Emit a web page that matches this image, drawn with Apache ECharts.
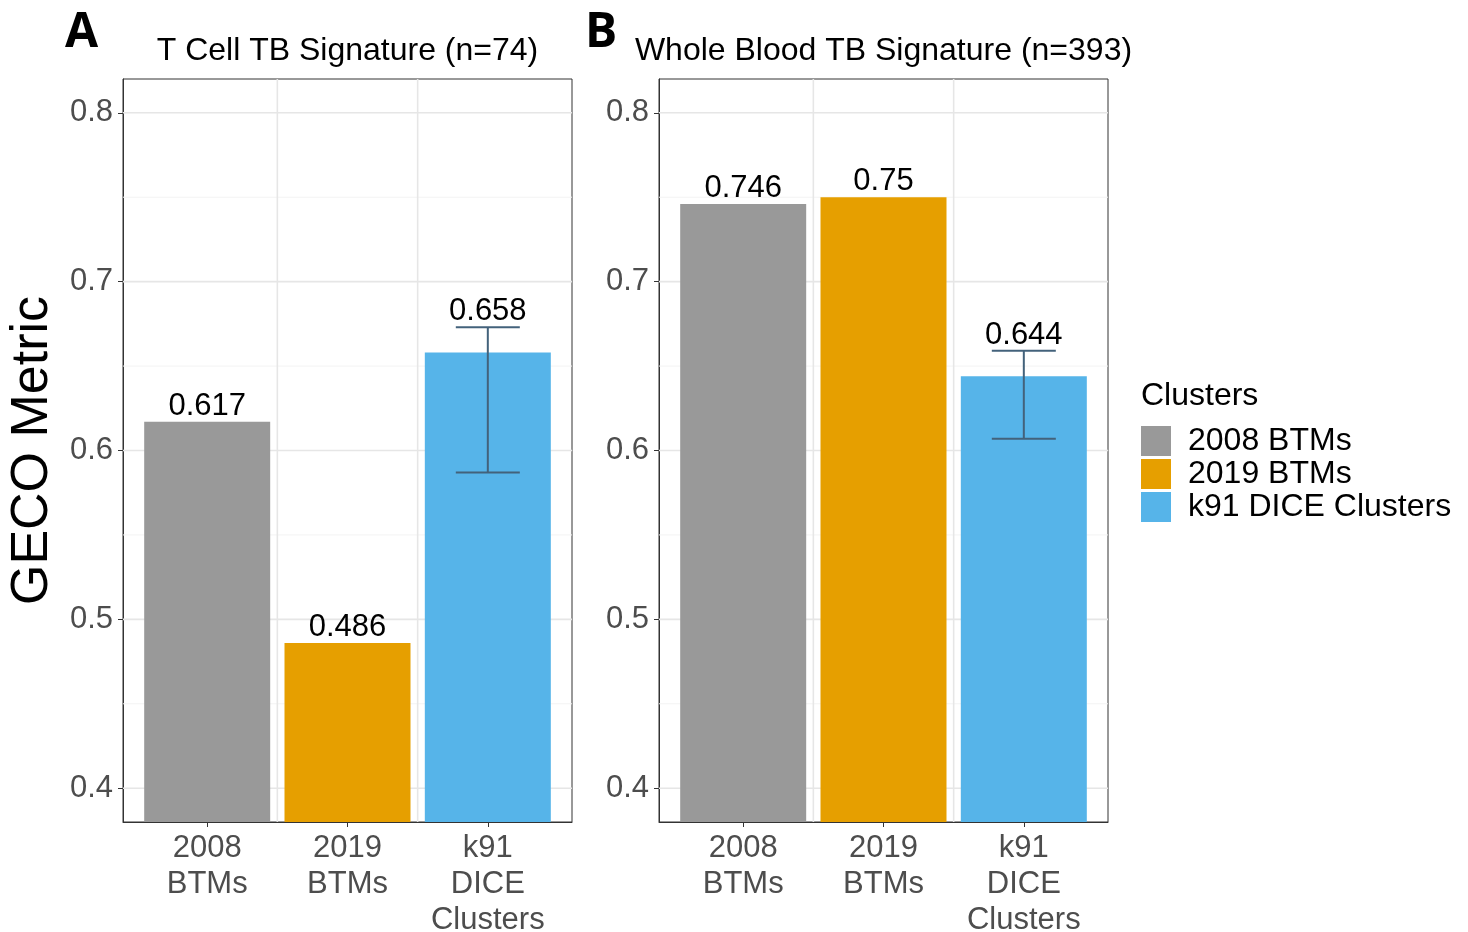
<!DOCTYPE html>
<html>
<head>
<meta charset="utf-8">
<script src="https://cdn.jsdelivr.net/npm/echarts@6/dist/echarts.min.js"></script>
<style>
  html, body { margin: 0; padding: 0; background: #fff; }
  #chart { width: 1468px; height: 932px; }
</style>
</head>
<body>
<div id="chart"></div>
<script>
// data
var categories = ['2008\nBTMs', '2019\nBTMs', 'k91\nDICE\nClusters'];
var clusterNames = ['2008 BTMs', '2019 BTMs', 'k91 DICE Clusters'];
var clusterColors = ['#999999', '#E69F00', '#56B4E9'];
var panelTags = ['A', 'B'];
var panelTitles = ['T Cell TB Signature (n=74)', 'Whole Blood TB Signature (n=393)'];
var valuesA = [0.617, 0.486, 0.658];
var valuesB = [0.746, 0.75, 0.644];
var errLowA = [null, null, 0.587];
var errHighA = [null, null, 0.673];
var errLowB = [null, null, 0.607];
var errHighB = [null, null, 0.659];
var yTicks = [0.4, 0.5, 0.6, 0.7, 0.8];
var yMinorGrid = [0.45, 0.55, 0.65, 0.75];
var xGridLines = [1.5, 2.5];
var xPositions = [1, 2, 3];

var panels = [
  {values: valuesA, lo: errLowA, hi: errHighA, left: 123},
  {values: valuesB, lo: errLowB, hi: errHighB, left: 659}
];
var plotTop = 79, plotW = 449, plotH = 743;
var textFont = '"Liberation Sans", Arial, sans-serif';
var errColor = '#43627b';

function renderErr(params, api) {
  var x = api.value(0);
  var lo = api.coord([x, api.value(1)]);
  var hi = api.coord([x, api.value(2)]);
  var hw = 32;
  var st = {stroke: errColor, lineWidth: 2};
  return {
    type: 'group',
    children: [
      {type: 'line', shape: {x1: lo[0], y1: lo[1], x2: hi[0], y2: hi[1]}, style: st},
      {type: 'line', shape: {x1: hi[0] - hw, y1: hi[1], x2: hi[0] + hw, y2: hi[1]}, style: st},
      {type: 'line', shape: {x1: lo[0] - hw, y1: lo[1], x2: lo[0] + hw, y2: lo[1]}, style: st}
    ]
  };
}

// background grid lines: [axis, value, kind]
function renderGrid(params, api) {
  var cs = params.coordSys;
  var dir = api.value(0), v = api.value(1), minor = api.value(2);
  var st = {stroke: minor ? '#f3f3f3' : '#e6e6e6', lineWidth: minor ? 1 : 1.6};
  if (dir === 0) {
    var y = api.coord([1, v])[1];
    return {type: 'line', shape: {x1: cs.x, y1: y, x2: cs.x + cs.width, y2: y}, style: st};
  }
  var x = api.coord([v, 0.6])[0];
  return {type: 'line', shape: {x1: x, y1: cs.y, x2: x, y2: cs.y + cs.height}, style: st};
}

var gridLineData = [];
yMinorGrid.forEach(function (v) { gridLineData.push([0, v, 1]); });
yTicks.forEach(function (v) { gridLineData.push([0, v, 0]); });
xGridLines.forEach(function (v) { gridLineData.push([1, v, 0]); });

var grids = [], xAxes = [], yAxes = [], series = [], graphics = [];

panels.forEach(function (p, pi) {
  grids.push({
    left: p.left, top: plotTop, width: plotW, height: plotH, outerBoundsMode: 'none',
    containLabel: false,
    show: true, borderColor: '#333333', borderWidth: 1, backgroundColor: '#fff'
  });
  xAxes.push({
    type: 'value', gridIndex: pi, min: 0.4, max: 3.6,
    axisLine: {show: true, lineStyle: {color: '#333333', width: 1}},
    axisTick: {show: true, length: 5, customValues: xPositions, lineStyle: {color: '#333333', width: 1}},
    axisLabel: {
      customValues: xPositions, margin: 8, color: '#4d4d4d', fontSize: 31, lineHeight: 36,
      fontFamily: textFont,
      formatter: function (v) { return categories[Math.round(v) - 1]; }
    },
    splitLine: {show: false}
  });
  yAxes.push({
    type: 'value', gridIndex: pi, min: 0.38, max: 0.82,
    name: pi === 0 ? 'GECO Metric' : '',
    nameLocation: 'middle', nameGap: 64,
    nameTextStyle: {fontSize: 52, color: '#000', fontFamily: textFont},
    axisLine: {show: true, lineStyle: {color: '#333333', width: 1}},
    axisTick: {show: true, length: 5, customValues: yTicks, lineStyle: {color: '#333333', width: 1}},
    axisLabel: {
      customValues: yTicks, margin: 10, color: '#4d4d4d', fontSize: 31, fontFamily: textFont,
      formatter: function (v) { return v.toFixed(1); }
    },
    splitLine: {show: false}
  });

  series.push({
    type: 'custom', xAxisIndex: pi, yAxisIndex: pi, renderItem: renderGrid,
    data: gridLineData, z: 1, silent: true, clip: false
  });

  p.values.forEach(function (v, i) {
    series.push({
      type: 'bar', name: clusterNames[i], xAxisIndex: pi, yAxisIndex: pi,
      data: [[xPositions[i], v]], barWidth: 126, barGap: '-100%', z: 2,
      itemStyle: {color: clusterColors[i]}
    });
  });

  var errData = [];
  var labelData = [];
  p.values.forEach(function (v, i) {
    if (p.lo[i] !== null) errData.push([xPositions[i], p.lo[i], p.hi[i]]);
    var top = p.hi[i] !== null ? Math.max(v, p.hi[i]) : v;
    labelData.push([xPositions[i], top, String(v)]);
  });
  series.push({
    type: 'custom', xAxisIndex: pi, yAxisIndex: pi, renderItem: renderErr,
    data: errData, z: 3, encode: {x: 0, y: [1, 2]}
  });
  series.push({
    type: 'scatter', xAxisIndex: pi, yAxisIndex: pi, data: labelData, symbolSize: 0, z: 4,
    itemStyle: {opacity: 1},
    label: {
      show: true, position: 'top', distance: 0, color: '#000', fontSize: 31, fontFamily: textFont,
      formatter: function (d) { return d.value[2]; }
    }
  });

  graphics.push({
    type: 'text', x: p.left + plotW / 2, y: 35,
    style: {text: panelTitles[pi], font: '32px ' + textFont, fill: '#000', textAlign: 'center', textVerticalAlign: 'top'}
  });
  graphics.push({
    type: 'text', x: pi === 0 ? 65 : 585, y: 9,
    style: {text: panelTags[pi], font: 'bold 48px "Open Sans", sans-serif', fill: '#000', textAlign: 'left', textVerticalAlign: 'top'}
  });
});

graphics.push({
  type: 'text', x: 1141, y: 380,
  style: {text: 'Clusters', font: '32px ' + textFont, fill: '#000', textAlign: 'left', textVerticalAlign: 'top'}
});

var chart = echarts.init(document.getElementById('chart'));
chart.setOption({
  animation: false,
  backgroundColor: '#fff',
  grid: grids,
  xAxis: xAxes,
  yAxis: yAxes,
  legend: {
    data: clusterNames, orient: 'vertical', left: 1141, top: 425, padding: 0,
    itemWidth: 30, itemHeight: 30, itemGap: 1, icon: 'rect', selectedMode: false,
    textStyle: {fontSize: 32, color: '#000', fontFamily: textFont, padding: [0, 0, 0, 12]}
  },
  graphic: graphics,
  series: series
});
</script>
</body>
</html>
